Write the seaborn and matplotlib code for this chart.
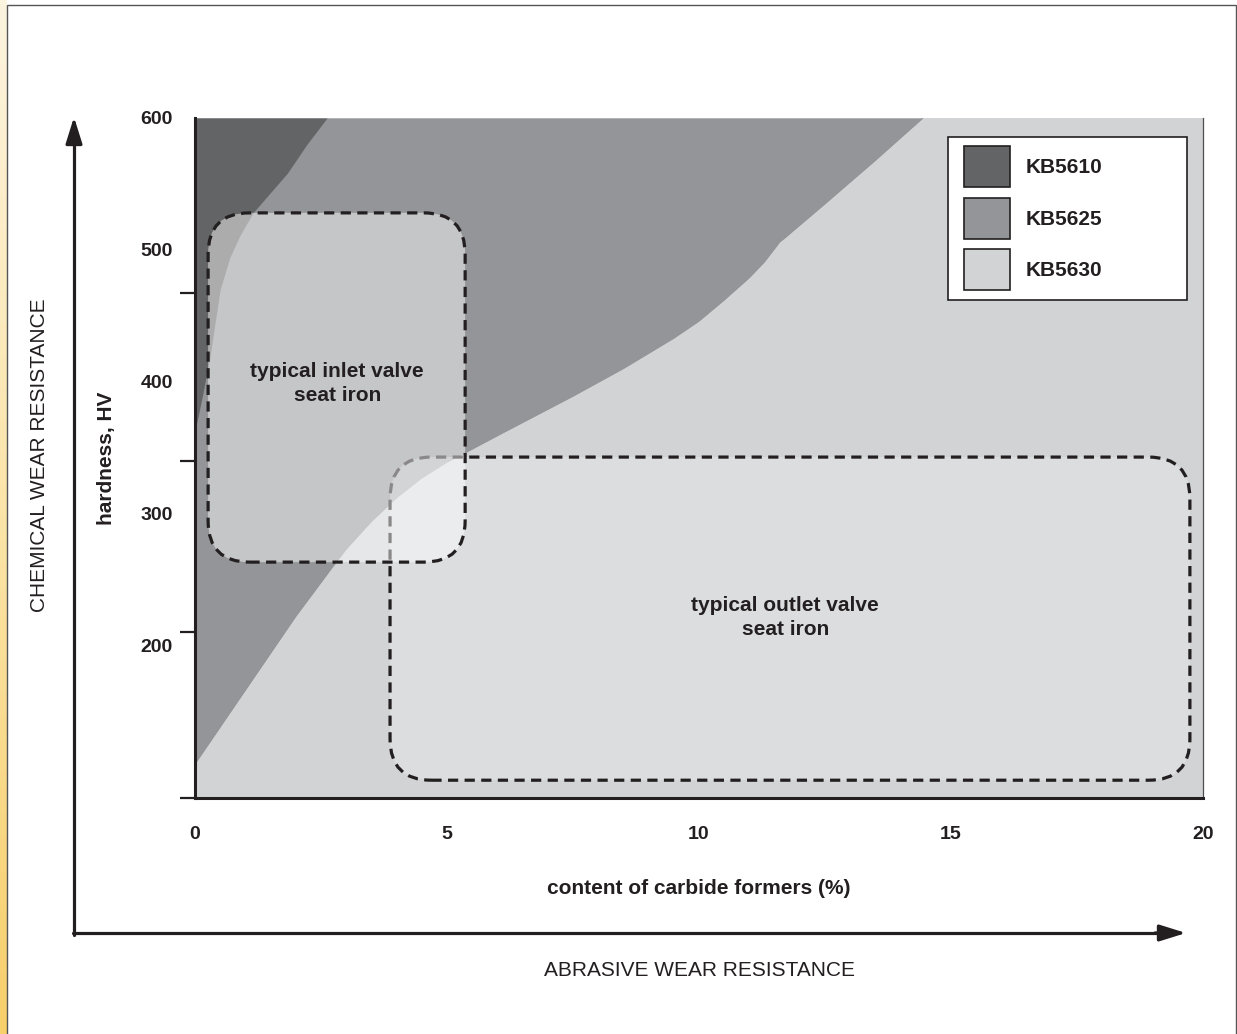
import numpy as np
import matplotlib.pyplot as plt
import seaborn as sns
from matplotlib.patches import FancyBboxPatch, Patch, Rectangle
from matplotlib.legend_handler import HandlerPatch
from matplotlib.colors import LinearSegmentedColormap

# region colours
c_5610 = '#636466'
c_5625 = '#939598'
c_5630 = '#d1d3d4'
ink = '#231f20'

# boundary between KB5625 and KB5630 (x = carbide formers %, y = hardness HV)
b625_x = [0, 1, 2, 2.74, 3.0, 3.5, 4.0, 4.5, 5.0, 5.36, 6.0, 6.6, 7.5, 8.5, 9.5, 10.0, 10.5,
          11.0, 11.3, 11.5, 11.6, 11.7, 12.5, 13.5, 14.44]
b625_y = [110, 166, 222, 260, 273, 294, 312, 327, 339, 346, 359, 371, 389, 410, 433, 446, 462,
          479, 491, 501, 506, 509, 535, 568, 600]

# boundary of KB5610 corner
b610_y = [363, 375, 390, 419, 445, 470, 494, 510, 528, 540, 558, 580, 600]
b610_x = [0, 0.07, 0.15, 0.3, 0.4, 0.5, 0.69, 0.88, 1.15, 1.42, 1.83, 2.22, 2.62]

# dashed boxes: x0, x1, y0, y1
inlet_box = [0.26, 5.36, 263, 528]
outlet_box = [3.87, 19.74, 97.5, 342.7]

legend_labels = ['KB5610', 'KB5625', 'KB5630']
x_ticks = [0, 5, 10, 15, 20]
y_labels = [200, 300, 400, 500, 600]
y_marks = [84, 210, 340, 467, 600]

sns.set_theme(style='white')
plt.rcParams['font.family'] = ['Liberation Sans', 'DejaVu Sans']
plt.rcParams['text.color'] = ink

fig = plt.figure(figsize=(12.37, 10.34), dpi=100)
fig.patch.set_facecolor('white')

# yellow strip + outer frame
strip = fig.add_axes([0, 0, 6 / 1237, 1])
grad = np.linspace(0, 1, 256).reshape(-1, 1)
ycmap = LinearSegmentedColormap.from_list('y', ['#f7cf6b', '#fbe4a8', '#fdf4e0'])
strip.imshow(grad, aspect='auto', cmap=ycmap, origin='lower', extent=[0, 1, 0, 1])
strip.axis('off')
fig.add_artist(Rectangle((7 / 1237, -0.01), 1229 / 1237, 1.01 - 5 / 1034, transform=fig.transFigure,
                         fill=False, edgecolor='#555555', lw=1.0))

ax = fig.add_axes([195 / 1237, 1 - 798 / 1034, 1008 / 1237, 680 / 1034])
ax.set_facecolor(c_5630)
ax.set_xlim(0, 20)
ax.set_ylim(84, 600)

ax.fill_between(b625_x, b625_y, 600, color=c_5625, lw=0)
sns.lineplot(x=b625_x, y=b625_y, color=c_5625, lw=0.6, ax=ax, sort=False)
ax.fill_betweenx(b610_y, 0, b610_x, color=c_5610, lw=0)

# pixel aspect so that rounded corners look circular
asp = (1008 / 20) / (680 / 516)


def dashed_box(b, face, z):
    p = FancyBboxPatch((b[0], b[2]), b[1] - b[0], b[3] - b[2],
                       boxstyle='round,pad=0,rounding_size=0.82', mutation_aspect=asp,
                       facecolor=face, edgecolor=ink, lw=2.3, linestyle=(0, (3.2, 2.0)), zorder=z)
    ax.add_patch(p)


dashed_box(outlet_box, (1, 1, 1, 0.24), 3)
dashed_box(inlet_box, (1, 1, 1, 0.47), 4)

ax.text(2.82, 398.5, 'typical inlet valve\nseat iron', ha='center', va='center',
        fontsize=15, fontweight='bold', linespacing=1.35, zorder=5)
ax.text(11.71, 221, 'typical outlet valve\nseat iron', ha='center', va='center',
        fontsize=15, fontweight='bold', linespacing=1.35, zorder=5)

# axes, ticks
for s in ['left', 'bottom']:
    ax.spines[s].set_color(ink)
    ax.spines[s].set_linewidth(2.2)
ax.spines['top'].set_visible(False)
ax.spines['right'].set_color('#4d4d4f')
ax.spines['right'].set_linewidth(0.9)

ax.set_xticks(x_ticks)
ax.set_xticklabels([str(v) for v in x_ticks])
ax.set_xticks(x_ticks[1:], minor=True)
ax.set_yticks(y_labels)
ax.set_yticklabels([str(v) for v in y_labels])
ax.set_yticks(y_marks, minor=True)
ax.tick_params(axis='x', which='major', length=0, pad=20, labelsize=14, labelcolor=ink)
ax.tick_params(axis='y', which='major', length=0, pad=16, labelsize=14, labelcolor=ink)
ax.tick_params(axis='x', which='minor', bottom=True, direction='out', length=14.5, width=1.6, color=ink)
ax.tick_params(axis='y', which='minor', left=True, direction='out', length=11, width=1.6, color=ink)
for t in ax.get_xticklabels() + ax.get_yticklabels():
    t.set_fontweight('bold')

ax.set_xlabel('content of carbide formers (%)', fontsize=15, fontweight='bold', color=ink)
ax.xaxis.set_label_coords(0.5, -0.119)
ax.set_ylabel('hardness, HV', fontsize=15, fontweight='bold', color=ink)
ax.yaxis.set_label_coords(-0.078, 0.5)

handles = [Patch(facecolor=c, edgecolor=ink, lw=1.2) for c in [c_5610, c_5625, c_5630]]
leg = ax.legend(handles, legend_labels, loc='upper left', mode='expand',
                bbox_to_anchor=(0.747, 0.5, 0.237, 0.472), borderaxespad=0,
                prop={'weight': 'bold', 'size': 15}, handlelength=2.55, handleheight=2.65,
                borderpad=0.45, labelspacing=0.5, handletextpad=0.72,
                fancybox=False, framealpha=1, edgecolor=ink,
                handler_map={Patch: HandlerPatch(xpad=0.34)})
leg.get_frame().set_linewidth(1.2)
leg.set_zorder(6)

# outer resistance arrows
x0, y0 = 74 / 1237, 1 - 933 / 1034
fig.add_artist(plt.Line2D([x0, x0], [y0 - 1.5 / 1034, 1 - 138 / 1034], color=ink, lw=2.3,
                          transform=fig.transFigure))
fig.add_artist(plt.Line2D([x0 - 1.1 / 1237, 1163 / 1237], [y0, y0], color=ink, lw=2.3,
                          transform=fig.transFigure))
ax.annotate('', xy=(x0, 1 - 117 / 1034), xytext=(x0, 1 - 145 / 1034), xycoords='figure fraction',
            arrowprops=dict(arrowstyle='-|>,head_length=0.8,head_width=0.25', mutation_scale=20,
                            color=ink, lw=2.3, shrinkA=0, shrinkB=0))
ax.annotate('', xy=(1186 / 1237, y0), xytext=(1155 / 1237, y0), xycoords='figure fraction',
            arrowprops=dict(arrowstyle='-|>,head_length=0.8,head_width=0.25', mutation_scale=20,
                            color=ink, lw=2.3, shrinkA=0, shrinkB=0))

fig.text(40 / 1237, 1 - 455 / 1034, 'CHEMICAL WEAR RESISTANCE', rotation=90, ha='center', va='center',
         fontsize=15, color=ink)
fig.text(700 / 1237, 1 - 971 / 1034, 'ABRASIVE WEAR RESISTANCE', ha='center', va='center',
         fontsize=15, color=ink)

fig.savefig('out.png', dpi=100)
